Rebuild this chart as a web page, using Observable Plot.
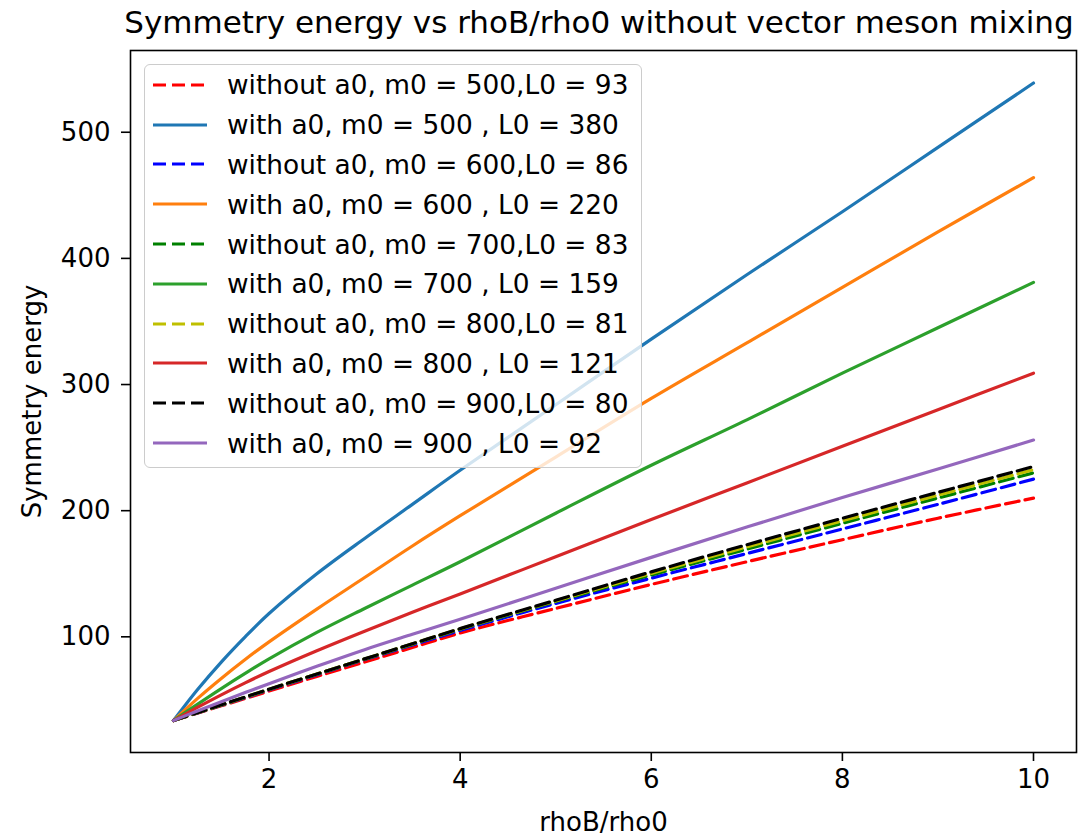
<!DOCTYPE html>
<html>
<head>
<meta charset="utf-8">
<script src="https://cdn.jsdelivr.net/npm/d3@7"></script>
<script src="https://cdn.jsdelivr.net/npm/@observablehq/plot@0.6"></script>
<style>
  html, body { margin: 0; padding: 0; background: #fff; }
  #wrap { position: relative; width: 1091px; height: 835px; font-family: "DejaVu Sans", sans-serif; color: #000; overflow: hidden; }
  #title { height: 45px; width: 1091px; box-sizing: border-box; padding-left: 107px; text-align: center; font-size: 31px; line-height: 45px; white-space: nowrap; }
  #legend { position: absolute; left: 144px; top: 64px; width: 498px; padding: 0 0 4px 8px; box-sizing: border-box;
            background: rgba(255,255,255,0.8); border: 1px solid #cccccc; border-radius: 6px; font-size: 26.4px; }
  .row { height: 39.8px; display: flex; align-items: center; white-space: nowrap; }
  .row svg { margin-right: 20px; flex: none; }
</style>
</head>
<body>
<div id="wrap">
  <div id="title">Symmetry energy vs rhoB/rho0 without vector meson mixing</div>
  <div id="chart"></div>
  <div id="legend"></div>
</div>
<script>
// ---- data ----
const rhoB = [1, 1.25, 1.5, 1.75, 2, 2.5, 3, 3.5, 4, 5, 6, 7, 8, 9, 10];

const withoutA0_m500 = [33.6, 39.5, 45.3, 51.1, 57.0, 68.6, 80.0, 91.5, 103.0, 122.5, 141.5, 159.5, 177.0, 194.0, 210.0];
const withA0_m500    = [33.6, 58.0, 80.0, 100.0, 118.5, 150.0, 178.0, 205.0, 232.0, 284.0, 336.0, 387.0, 437.0, 488.0, 539.0];
const withoutA0_m600 = [33.6, 39.7, 45.7, 51.8, 58.0, 70.0, 82.0, 93.5, 105.0, 126.5, 146.5, 166.0, 185.5, 205.0, 225.0];
const withA0_m600    = [33.6, 51.0, 67.0, 82.0, 96.0, 122.0, 147.0, 172.0, 196.0, 242.5, 289.0, 333.0, 377.0, 421.0, 464.0];
const withoutA0_m700 = [33.6, 39.8, 45.9, 52.1, 58.3, 70.4, 82.3, 94.2, 106.0, 128.0, 149.0, 169.5, 190.0, 210.0, 230.0];
const withA0_m700    = [33.6, 46.5, 59.0, 71.0, 82.5, 103.5, 122.5, 141.0, 159.5, 198.0, 236.0, 272.0, 309.0, 345.0, 381.0];
const withoutA0_m800 = [33.6, 39.8, 46.0, 52.2, 58.4, 70.5, 82.4, 94.4, 106.3, 128.5, 150.3, 171.3, 192.0, 212.3, 232.5];
const withA0_m800    = [33.6, 44.0, 54.0, 63.5, 72.5, 89.0, 104.5, 119.5, 134.0, 163.5, 193.0, 222.0, 251.0, 280.0, 309.0];
const withoutA0_m900 = [33.6, 39.9, 46.1, 52.3, 58.5, 70.5, 82.5, 94.5, 106.5, 129.0, 151.5, 173.0, 194.0, 214.5, 235.0];
const withA0_m900    = [33.6, 41.2, 48.6, 55.8, 62.8, 76.6, 89.8, 102.0, 114.0, 138.5, 163.0, 187.0, 210.5, 233.0, 256.0];

const seriesLabels = [
  "without a0, m0 = 500,L0 = 93",
  "with a0, m0 = 500 , L0 = 380",
  "without a0, m0 = 600,L0 = 86",
  "with a0, m0 = 600 , L0 = 220",
  "without a0, m0 = 700,L0 = 83",
  "with a0, m0 = 700 , L0 = 159",
  "without a0, m0 = 800,L0 = 81",
  "with a0, m0 = 800 , L0 = 121",
  "without a0, m0 = 900,L0 = 80",
  "with a0, m0 = 900 , L0 = 92"
];
const seriesValues = [withoutA0_m500, withA0_m500, withoutA0_m600, withA0_m600, withoutA0_m700,
                      withA0_m700, withoutA0_m800, withA0_m800, withoutA0_m900, withA0_m900];
const seriesColors = ["#ff0000", "#1f77b4", "#0000ff", "#ff7f0e", "#008000",
                      "#2ca02c", "#bfbf00", "#d62728", "#000000", "#9467bd"];
const seriesDashed = [true, false, true, false, true, false, true, false, true, false];

const xTicks = [2, 4, 6, 8, 10];
const yTicks = [100, 200, 300, 400, 500];

// ---- build chart ----
const DASH = "14,6";
const SW = 3.2;

const lineMarks = seriesLabels.map((label, i) => {
  const rows = rhoB.map((r, j) => ({rho: r, E: seriesValues[i][j], series: label}));
  return Plot.line(rows, {
    x: "rho", y: "E",
    stroke: seriesColors[i],
    strokeWidth: SW,
    strokeDasharray: seriesDashed[i] ? DASH : undefined,
    curve: "catmull-rom"
  });
});

const chart = Plot.plot({
  width: 1091,
  height: 790,
  marginTop: 5,
  marginBottom: 83,
  marginLeft: 130,
  marginRight: 15,
  style: {fontFamily: "DejaVu Sans, sans-serif", fontSize: "26px", color: "#000", background: "#fff", overflow: "visible"},
  x: {domain: [0.55, 10.45]},
  y: {domain: [8.3, 564.8]},
  marks: [
    ...lineMarks,
    Plot.frame({stroke: "#000", strokeWidth: 1.6}),
    Plot.axisX({ticks: xTicks, tickSize: 9, tickPadding: 8, strokeWidth: 1.6, fontSize: 26,
                label: "rhoB/rho0", labelAnchor: "center", labelOffset: 78, labelArrow: "none"}),
    Plot.axisY({ticks: yTicks, tickSize: 9, tickPadding: 11, strokeWidth: 1.6, fontSize: 26,
                label: "Symmetry energy", labelAnchor: "center", labelOffset: 108, labelArrow: "none"})
  ]
});
document.getElementById("chart").appendChild(chart);

// ---- legend ----
const legend = d3.select("#legend");
seriesLabels.forEach((label, i) => {
  const row = legend.append("div").attr("class", "row");
  const svg = row.append("svg").attr("width", 54).attr("height", 10);
  svg.append("line").attr("x1", 0).attr("x2", 54).attr("y1", 5).attr("y2", 5)
    .attr("stroke", seriesColors[i]).attr("stroke-width", SW)
    .attr("stroke-dasharray", seriesDashed[i] ? "13,6" : null);
  row.append("span").text(label);
});
</script>
</body>
</html>
